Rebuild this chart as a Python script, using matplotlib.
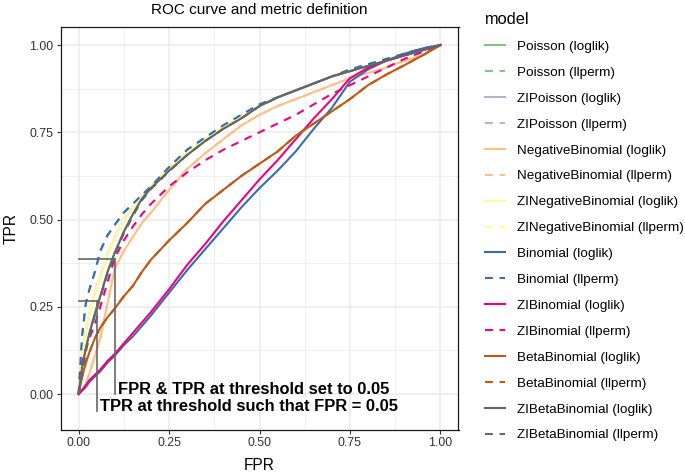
import matplotlib
matplotlib.use("Agg")
import matplotlib.pyplot as plt

plt.rcParams['font.family'] = ['Liberation Sans', 'DejaVu Sans']

# ---------------- data ----------------
fpr = [0, .01, .02, .03, .045, .06, .08, .1, .125, .15, .175, .2, .25, .3,
       .35, .4, .45, .5, .55, .6, .65, .7, .75, .8, .85, .9, .95, 1.0]

tpr_poisson_loglik = [0, .08, .13, .175, .23, .28, .35, .405, .465, .515, .56, .59, .64, .685,
                      .725, .76, .79, .825, .85, .87, .89, .91, .925, .94, .955, .97, .985, 1.0]
tpr_poisson_llperm = [0, .17, .26, .30, .35, .41, .455, .485, .52, .545, .57, .595, .65, .70,
                      .735, .77, .80, .83, .85, .87, .89, .91, .93, .945, .96, .975, .99, 1.0]
tpr_zipoisson_loglik = [0, .12, .18, .23, .29, .34, .40, .45, .50, .535, .565, .595, .645, .69,
                        .73, .765, .795, .825, .85, .87, .89, .91, .925, .94, .955, .97, .985, 1.0]
tpr_zipoisson_llperm = [0, .12, .18, .23, .29, .34, .40, .45, .50, .535, .565, .595, .645, .69,
                        .73, .765, .795, .825, .85, .87, .89, .91, .925, .94, .955, .97, .985, 1.0]
tpr_negbin_loglik = [0, .01, .03, .06, .11, .16, .26, .36, .41, .45, .49, .52, .585, .645,
                     .69, .73, .77, .80, .825, .845, .865, .885, .905, .92, .935, .955, .97, 1.0]
tpr_negbin_llperm = [0, .01, .03, .06, .11, .16, .26, .36, .41, .45, .49, .52, .585, .645,
                     .69, .73, .77, .80, .825, .845, .865, .885, .905, .92, .935, .955, .97, 1.0]
tpr_zinegbin_loglik = [0, .12, .18, .23, .29, .34, .40, .45, .50, .535, .565, .595, .645, .69,
                       .73, .765, .795, .825, .85, .87, .89, .91, .925, .94, .955, .97, .985, 1.0]
tpr_zinegbin_llperm = [0, .12, .18, .23, .29, .34, .40, .45, .50, .535, .565, .595, .645, .69,
                       .73, .765, .795, .825, .85, .87, .89, .91, .925, .94, .955, .97, .985, 1.0]
tpr_binomial_loglik = [0, .01, .02, .035, .05, .065, .09, .11, .14, .165, .195, .225, .29, .355,
                       .415, .475, .535, .59, .64, .695, .76, .82, .895, .93, .955, .975, .99, 1.0]
tpr_binomial_llperm = [0, .17, .26, .30, .35, .41, .455, .485, .52, .545, .57, .595, .65, .70,
                       .735, .77, .80, .83, .85, .87, .89, .91, .93, .945, .96, .975, .99, 1.0]
tpr_zibinomial_loglik = [0, .012, .025, .04, .055, .07, .095, .115, .145, .175, .205, .235, .30, .37,
                         .43, .495, .555, .615, .67, .73, .79, .845, .905, .935, .955, .97, .985, 1.0]
tpr_zibinomial_llperm = [0, .09, .13, .16, .20, .25, .32, .39, .44, .48, .515, .545, .595, .635,
                         .67, .70, .725, .75, .775, .80, .83, .86, .885, .91, .935, .96, .98, 1.0]
tpr_betabin_loglik = [0, .05, .09, .12, .16, .19, .22, .245, .28, .31, .35, .385, .44, .49,
                      .545, .585, .625, .66, .695, .74, .775, .81, .845, .885, .915, .942, .97, 1.0]
tpr_betabin_llperm = [0, .05, .09, .12, .16, .19, .22, .245, .28, .31, .35, .385, .44, .49,
                      .545, .585, .625, .66, .695, .74, .775, .81, .845, .885, .915, .942, .97, 1.0]
tpr_zibetabin_loglik = [0, .08, .13, .175, .23, .28, .35, .405, .465, .515, .56, .59, .64, .685,
                        .725, .76, .79, .825, .85, .87, .89, .91, .925, .94, .955, .97, .985, 1.0]
tpr_zibetabin_llperm = [0, .06, .12, .17, .225, .275, .345, .40, .46, .51, .555, .587, .638, .685,
                        .725, .76, .79, .825, .85, .87, .89, .91, .925, .94, .955, .97, .985, 1.0]

model_labels = ["Poisson (loglik)", "Poisson (llperm)",
                "ZIPoisson (loglik)", "ZIPoisson (llperm)",
                "NegativeBinomial (loglik)", "NegativeBinomial (llperm)",
                "ZINegativeBinomial (loglik)", "ZINegativeBinomial (llperm)",
                "Binomial (loglik)", "Binomial (llperm)",
                "ZIBinomial (loglik)", "ZIBinomial (llperm)",
                "BetaBinomial (loglik)", "BetaBinomial (llperm)",
                "ZIBetaBinomial (loglik)", "ZIBetaBinomial (llperm)"]
model_tprs = [tpr_poisson_loglik, tpr_poisson_llperm,
              tpr_zipoisson_loglik, tpr_zipoisson_llperm,
              tpr_negbin_loglik, tpr_negbin_llperm,
              tpr_zinegbin_loglik, tpr_zinegbin_llperm,
              tpr_binomial_loglik, tpr_binomial_llperm,
              tpr_zibinomial_loglik, tpr_zibinomial_llperm,
              tpr_betabin_loglik, tpr_betabin_llperm,
              tpr_zibetabin_loglik, tpr_zibetabin_llperm]

# threshold annotations
thr_fpr_point = 0.1       # FPR at threshold 0.05
thr_tpr_point = 0.386     # TPR at threshold 0.05
fixed_fpr = 0.05          # FPR = 0.05
fixed_tpr = 0.267         # TPR at FPR = 0.05
text_thr = "FPR & TPR at threshold set to 0.05"
text_fixed = "TPR at threshold such that FPR = 0.05"

x_ticks = [0, 0.25, 0.5, 0.75, 1.0]
x_ticklabels = ["0.00", "0.25", "0.50", "0.75", "1.00"]
y_ticks = [0, 0.25, 0.5, 0.75, 1.0]
y_ticklabels = ["0.00", "0.25", "0.50", "0.75", "1.00"]

# ---------------- styling ----------------
palette = ['#7FC97F', '#BEAED4', '#FDC086', '#FFFF99',
           '#386CB0', '#F0027F', '#BF5B17', '#666666']
DASH = (0, (3.8, 3.2))

W, H = 685, 475
fig = plt.figure(figsize=(W / 100, H / 100), dpi=100)
L, R, T, B = 60.5, 458.5, 26.7, 429.8
ax = fig.add_axes([L / W, 1 - B / H, (R - L) / W, (B - T) / H])

handles = []
for i, (lab, tpr) in enumerate(zip(model_labels, model_tprs)):
    col = palette[i // 2]
    ls = '-' if i % 2 == 0 else DASH
    ln, = ax.plot(fpr, tpr, color=col, lw=1.5, linestyle=ls,
                  solid_joinstyle='miter', label=lab, zorder=2 + i * 0.01)
    handles.append(ln)

gcol = '#666666'
ax.plot([0, thr_fpr_point], [thr_tpr_point, thr_tpr_point], color=gcol, lw=1.2, zorder=3)
ax.plot([thr_fpr_point, thr_fpr_point], [thr_tpr_point, 0], color=gcol, lw=1.2, zorder=3)
ax.plot([0, fixed_fpr], [fixed_tpr, fixed_tpr], color=gcol, lw=1.2, zorder=3)
ax.plot([fixed_fpr, fixed_fpr], [fixed_tpr, -0.05], color=gcol, lw=1.2, zorder=3)
ax.text(thr_fpr_point + 0.008, 0.0, text_thr, fontsize=11.9, fontweight='bold',
        ha='left', va='baseline', color='black', zorder=4)
ax.text(fixed_fpr + 0.008, -0.05, text_fixed, fontsize=11.9, fontweight='bold',
        ha='left', va='baseline', color='black', zorder=4)

ax.set_xlim(-0.05, 1.05)
ax.set_ylim(-0.1025, 1.0525)
ax.set_xticks(x_ticks)
ax.set_xticklabels(x_ticklabels)
ax.set_yticks(y_ticks)
ax.set_yticklabels(y_ticklabels)
ax.set_xticks([0.125, 0.375, 0.625, 0.875], minor=True)
ax.set_yticks([0.125, 0.375, 0.625, 0.875], minor=True)
ax.grid(True, which='major', color='#EBEBEB', lw=1.1, zorder=0)
ax.grid(True, which='minor', color='#EBEBEB', lw=0.55, zorder=0)
ax.set_axisbelow(True)
ax.tick_params(which='minor', length=0)
ax.tick_params(which='major', length=3.2, width=0.8, color='#333333',
               labelsize=8.9, labelcolor='#333333', pad=2.2)
for sp in ax.spines.values():
    sp.set_color('#1a1a1a')
    sp.set_linewidth(0.9)

ax.set_xlabel("FPR", fontsize=11.2)
ax.set_ylabel("TPR", fontsize=11.2)
ax.xaxis.set_label_coords(0.5, (B - 465) / (B - T))
ax.xaxis.label.set_va('center')
ax.yaxis.set_label_coords((11 - L) / (R - L), 0.5)
ax.yaxis.label.set_va('center')
ax.set_title("ROC curve and metric definition", fontsize=11, pad=0,
             y=(B - 10) / (B - T), va='center')

leg = fig.legend(handles=handles, loc='upper left',
                 bbox_to_anchor=(485 / W, 1 - 12 / H),
                 frameon=False, fontsize=9.7, title='model', title_fontsize=11.8,
                 alignment='left', borderpad=0, borderaxespad=0,
                 handlelength=1.5, handletextpad=0.84, labelspacing=1.0)

fig.savefig("out.png", dpi=100)
